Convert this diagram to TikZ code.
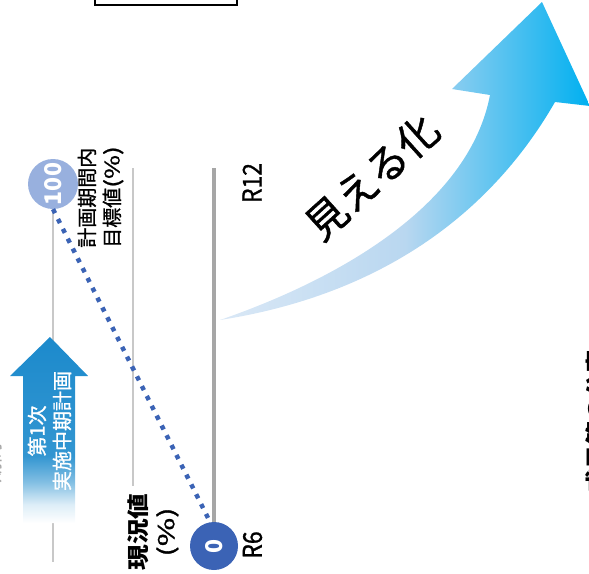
\documentclass[tikz,border=0pt]{standalone}
\usepackage{fontspec}
\usepackage{graphicx}
\setmainfont{Noto Sans CJK JP}
\newfontfamily\jpr{Noto Sans CJK JP}[FakeBold=1]
\definecolor{dblue}{RGB}{59,99,181}
\definecolor{lblue}{RGB}{152,176,222}
\definecolor{lgray}{RGB}{200,200,200}
\definecolor{mgray}{RGB}{166,166,166}
\definecolor{ablue}{RGB}{28,138,204}
\definecolor{cleft}{RGB}{218,232,246}
\definecolor{cmid}{RGB}{185,215,240}
\definecolor{cright}{RGB}{0,176,240}
\pgfdeclareverticalshading{fadearrow}{100bp}{color(0bp)=(white); color(25bp)=(white); color(30bp)=(ablue!15!white); color(36bp)=(ablue!55!white); color(43bp)=(ablue!90!white); color(75bp)=(ablue); color(100bp)=(ablue)}
\begin{document}
\begin{tikzpicture}[x=1pt,y=-1pt,
  thinline/.style={draw=lgray, line width=1.5pt},
  thickline/.style={draw=mgray, line width=4pt},
  dotline/.style={draw=dblue, line width=4.5pt, dash pattern=on 4.5pt off 6.5pt},
  vlabel/.style={rotate=90, inner sep=0pt},
  numcircle/.style={circle, inner sep=0pt, text=white, font=\fontsize{23}{23}\selectfont\bfseries}]
\useasboundingbox (0,0) rectangle (589,573);
% top box (cut off)
\draw[line width=2.5pt, fill=white] (95,-30) rectangle (237,4.75);
% guide lines
\coordinate (l1top) at (53,168); \coordinate (l1bot) at (53,562);
\coordinate (l2top) at (133,168); \coordinate (l2bot) at (133,486);
\coordinate (l3top) at (214,168);
\draw[thinline] (l1top) -- (l1bot);
\draw[thinline] (l2top) -- (l2bot);
% circles
\node[numcircle, fill=lblue, minimum size=50pt] (c100) at (53,184) {\rotatebox{90}{100}};
\node[numcircle, fill=dblue, minimum size=48pt] (c0) at (214,546) {\rotatebox{90}{0}};
\draw[thickline] (l3top) -- (c0.north);
\draw[dotline] (c100.south) -- ([xshift=-4pt]c0.north);
% blue plan arrow
\shade[shading=fadearrow] (50,337) -- (88,376) -- (75,376) -- (75,523) -- (23,523) -- (23,376) -- (10,376) -- cycle;
\node[vlabel, text=white, align=center, font=\jpr\fontsize{20}{25}\selectfont] (plan) at (49.5,431) {第1次\\実施中期計画};
% labels
\node[vlabel, align=left, font=\jpr\fontsize{20}{25}\selectfont] (target) at (100.5,197) {計画期間内\\目標値\scalebox{1.3}[1]{(\%)}};
\node[vlabel, align=center, font=\jpr\fontsize{22}{28}\selectfont] (current) at (153,532) {\scalebox{1.17}[1]{\normalfont\fontsize{22}{22}\selectfont\bfseries 現況値}\\\scalebox{1.4}[1]{(\%)}};
\node[vlabel, font=\jpr\fontsize{26}{26}\selectfont] (r12) at (252,183) {\scalebox{0.88}[1]{R12}};
\node[vlabel, font=\jpr\fontsize{26}{26}\selectfont] (r6) at (252.5,545) {\scalebox{0.88}[1]{R6}};
% curved arrow
\shade[left color=cleft, right color=cright, middle color=cmid]
  (220,320) .. controls (350,275) and (470,200) .. (490,95) -- (452,89) -- (542,2) -- (590,106) -- (555,102)
  .. controls (490,215) and (380,295) .. (220,320) -- cycle;
\node[rotate=42, inner sep=0pt, font=\jpr\fontsize{41}{41}\selectfont] (mieru) at (372,177) {見える化};
% text cut off at the edges
\node[vlabel, anchor=north, font=\fontsize{24}{24}\selectfont\bfseries] (cutright) at (585,421) {成果等の公表};
\node[vlabel, anchor=south, text=mgray, font=\fontsize{20}{20}\selectfont] (cutleft) at (2,463) {期間};
\end{tikzpicture}
\end{document}
